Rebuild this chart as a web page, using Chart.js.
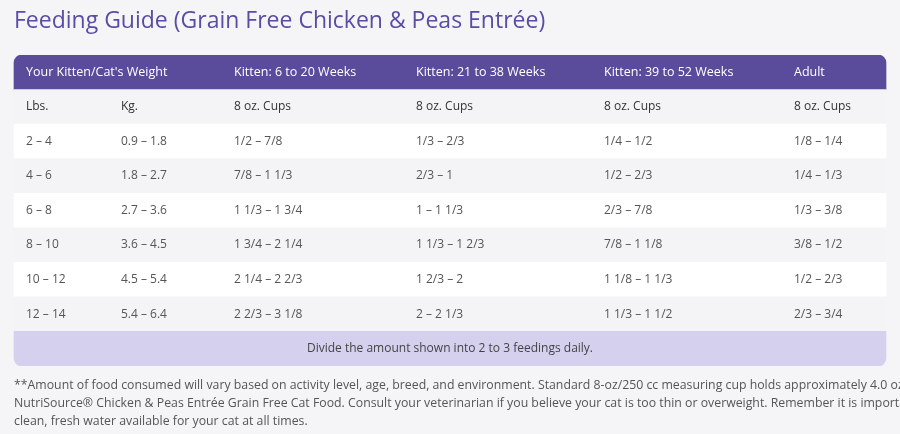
<!DOCTYPE html>
<html><head><meta charset="utf-8">
<script src="https://cdn.jsdelivr.net/npm/chart.js@4/dist/chart.umd.min.js"></script>
<style>html,body{margin:0;padding:0;background:#f5f5f8;}#c{display:block}</style>
</head><body>
<div style="width:900px;height:434px"><canvas id="c"></canvas></div>
<script>
const title = "Feeding Guide (Grain Free Chicken & Peas Entrée)";
const headers = ["Your Kitten/Cat's Weight", "", "Kitten: 6 to 20 Weeks", "Kitten: 21 to 38 Weeks", "Kitten: 39 to 52 Weeks", "Adult"];
const subHeaders = ["Lbs.", "Kg.", "8 oz. Cups", "8 oz. Cups", "8 oz. Cups", "8 oz. Cups"];
const lbs = ["2 – 4", "4 – 6", "6 – 8", "8 – 10", "10 – 12", "12 – 14"];
const kg = ["0.9 – 1.8", "1.8 – 2.7", "2.7 – 3.6", "3.6 – 4.5", "4.5 – 5.4", "5.4 – 6.4"];
const kitten6to20 = ["1/2 – 7/8", "7/8 – 1 1/3", "1 1/3 – 1 3/4", "1 3/4 – 2 1/4", "2 1/4 – 2 2/3", "2 2/3 – 3 1/8"];
const kitten21to38 = ["1/3 – 2/3", "2/3 – 1", "1 – 1 1/3", "1 1/3 – 1 2/3", "1 2/3 – 2", "2 – 2 1/3"];
const kitten39to52 = ["1/4 – 1/2", "1/2 – 2/3", "2/3 – 7/8", "7/8 – 1 1/8", "1 1/8 – 1 1/3", "1 1/3 – 1 1/2"];
const adult = ["1/8 – 1/4", "1/4 – 1/3", "1/3 – 3/8", "3/8 – 1/2", "1/2 – 2/3", "2/3 – 3/4"];
const footerNote = "Divide the amount shown into 2 to 3 feedings daily.";
const footnote = [
 "**Amount of food consumed will vary based on activity level, age, breed, and environment. Standard 8-oz/250 cc measuring cup holds approximately 4.0 oz/113 g of",
 "NutriSource® Chicken & Peas Entrée Grain Free Cat Food. Consult your veterinarian if you believe your cat is too thin or overweight. Remember it is important to have",
 "clean, fresh water available for your cat at all times."
];

// layout
const colX = [26, 121, 234, 416, 604, 794];
const tableLeft = 14, tableRight = 886;
const rowKeys = ["header", "sub", ...lbs, "footer"];
const rowColors = ["#5b4c9b", "#f4f4f7", "#ffffff", "#f4f4f7", "#ffffff", "#f4f4f7", "#ffffff", "#f4f4f7", "#d4d0ee"];
const F = "'Open Sans', Lato, sans-serif";

const tablePlugin = {
  id: 'tableText',
  afterDatasetsDraw(chart) {
    const ctx = chart.ctx, y = chart.scales.y;
    ctx.save();
    ctx.textBaseline = 'middle';
    ctx.textAlign = 'left';
    ctx.fillStyle = '#ffffff';
    ctx.font = '500 12.5px ' + F;
    headers.forEach((h, i) => ctx.fillText(h, colX[i], y.getPixelForValue(0)));
    ctx.fillStyle = '#333333';
    ctx.font = '12px ' + F;
    subHeaders.forEach((h, i) => ctx.fillText(h, colX[i], y.getPixelForValue(1)));
    ctx.fillStyle = '#555555';
    const cols = [lbs, kg, kitten6to20, kitten21to38, kitten39to52, adult];
    lbs.forEach((_, r) => cols.forEach((c, i) => ctx.fillText(c[r], colX[i], y.getPixelForValue(r + 2))));
    ctx.textAlign = 'center';
    ctx.fillStyle = '#444444';
    ctx.fillText(footerNote, (tableLeft + tableRight) / 2, y.getPixelForValue(8));
    ctx.textAlign = 'left';
    ctx.fillStyle = '#5a4ca2';
    ctx.font = '500 23px ' + F;
    ctx.fillText(title, 14, 21);
    ctx.fillStyle = '#555555';
    ctx.font = '12.3px ' + F;
    footnote.forEach((t, i) => ctx.fillText(t, 14, 385 + i * 18));
    ctx.restore();
  }
};

new Chart(document.getElementById('c'), {
  type: 'bar',
  data: {
    labels: rowKeys,
    datasets: [{
      data: rowKeys.map(() => [tableLeft, tableRight]),
      backgroundColor: rowColors,
      borderSkipped: false,
      borderRadius: rowKeys.map((k) => k === 'header' ? {topLeft: 8, topRight: 8, bottomLeft: 0, bottomRight: 0}
                                   : k === 'footer' ? {topLeft: 0, topRight: 0, bottomLeft: 8, bottomRight: 8} : 0),
      barPercentage: 1.0,
      categoryPercentage: 1.0
    }]
  },
  options: {
    indexAxis: 'y',
    responsive: true, maintainAspectRatio: false, animation: false,
    layout: { padding: { top: 55, bottom: 68, left: 0, right: 0 } },
    plugins: { legend: { display: false }, tooltip: { enabled: false } },
    scales: {
      x: { type: 'linear', min: 0, max: 900, display: false },
      y: { display: false, offset: true }
    }
  },
  plugins: [tablePlugin]
});
</script>
</body></html>
